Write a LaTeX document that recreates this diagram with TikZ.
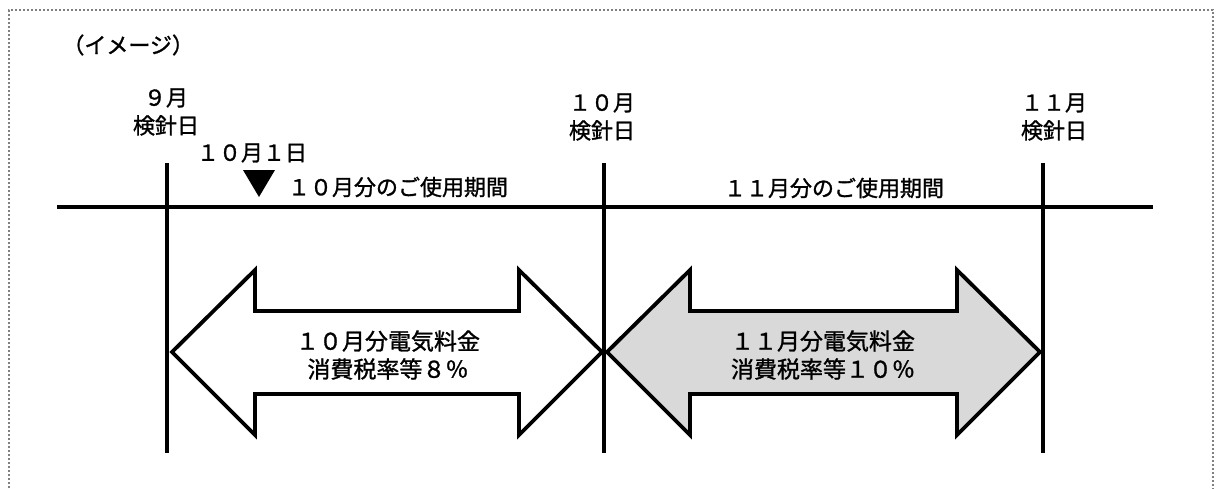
\documentclass[tikz,border=0pt]{standalone}
\usepackage{fontspec}
\newfontfamily\jpfont[FakeBold=1.2]{Noto Sans CJK JP}
\definecolor{periodgray}{HTML}{D9D9D9}
\begin{document}
\begin{tikzpicture}[x=0.5pt,y=-0.5pt,
    label/.style={font=\jpfont\fontsize{11pt}{14pt}\selectfont,inner sep=0pt,align=center},
    feebox/.style={font=\jpfont\fontsize{11.5pt}{14pt}\selectfont,inner sep=0pt,align=center},
    timeline/.style={line width=2pt},
    feearrow/.style={line width=1.9pt,line join=miter}]
    \useasboundingbox (0,0) rectangle (1217,488);
    % dotted frame
    \draw[gray,line width=0.6pt,dash pattern=on 1pt off 1pt] (9,520) -- (9,10) -- (1213,10) -- (1213,520);
    \node[label,anchor=west] (image) at (62,45) {（イメージ）};
    % meter reading days
    \node[label] (sep) at (166,112) {９月\\検針日};
    \node[label] (oct) at (602,117) {１０月\\検針日};
    \node[label] (nov) at (1054,117) {１１月\\検針日};
    \node[label] (first) at (252,153) {１０月１日};
    \fill (243,170) -- (275,170) -- (259,197) -- cycle;
    \node[label] (octuse) at (398,187) {１０月分のご使用期間};
    \node[label] (novuse) at (834,188) {１１月分のご使用期間};
    % time axis
    \draw[timeline] (57,207) -- (1153,207);
    \draw[timeline] (167,163) -- (167,453);
    \draw[timeline] (604,163) -- (604,453);
    \draw[timeline] (1043,163) -- (1043,453);
    % billing periods
    \draw[feearrow,fill=white] (172,352) -- (255,270) -- (255,311) -- (519,311) -- (519,270)
        -- (602,352) -- (519,435) -- (519,394) -- (255,394) -- (255,435) -- cycle;
    \draw[feearrow,fill=periodgray] (607,352) -- (690,270) -- (690,311) -- (957,311) -- (957,270)
        -- (1040,352) -- (957,435) -- (957,394) -- (690,394) -- (690,435) -- cycle;
    \node[feebox] (octfee) at (388,355) {１０月分電気料金\\消費税率等８％};
    \node[feebox] (novfee) at (823,355) {１１月分電気料金\\消費税率等１０％};
\end{tikzpicture}
\end{document}
